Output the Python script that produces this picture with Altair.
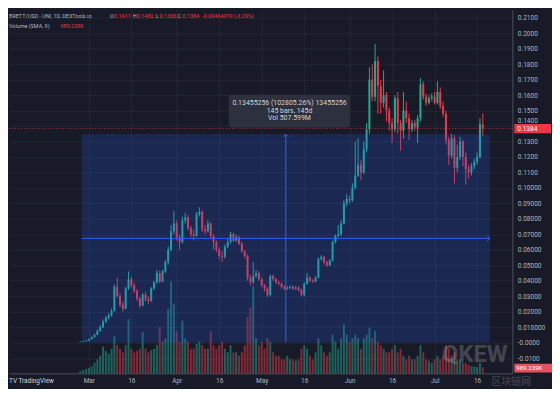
import json
import altair as alt
import pandas as pd

# ---------------- data ----------------
dates = pd.date_range("2024-02-27", periods=143, freq="D").strftime("%Y-%m-%d").tolist()

opens = [
    0.0004, 0.0006, 0.0009, 0.0013, 0.0022, 0.0035, 0.0050, 0.0075, 0.0100, 0.0135,
    0.0160, 0.0175, 0.0205, 0.0360, 0.0300, 0.0245, 0.0220, 0.0350, 0.0410, 0.0370,
    0.0335, 0.0285, 0.0240, 0.0310, 0.0280, 0.0270, 0.0350, 0.0390, 0.0450, 0.0395,
    0.0460, 0.0520, 0.0600, 0.0720, 0.0770, 0.0680, 0.0650, 0.0790, 0.0810, 0.0740,
    0.0700, 0.0690, 0.0830, 0.0845, 0.0730, 0.0720, 0.0770, 0.0690, 0.0650, 0.0600,
    0.0560, 0.0555, 0.0620, 0.0650, 0.0700, 0.0660, 0.0680, 0.0640, 0.0590, 0.0560,
    0.0420, 0.0390, 0.0430, 0.0450, 0.0410, 0.0370, 0.0350, 0.0310, 0.0430, 0.0410,
    0.0390, 0.0380, 0.0360, 0.0350, 0.0355, 0.0360, 0.0350, 0.0355, 0.0340, 0.0310,
    0.0380, 0.0420, 0.0400, 0.0395, 0.0420, 0.0540, 0.0555, 0.0520, 0.0500, 0.0530,
    0.0650, 0.0690, 0.0700, 0.0770, 0.0900, 0.0930, 0.0920, 0.1000, 0.1080, 0.1150,
    0.1100, 0.1250, 0.1380, 0.1700, 0.1590, 0.1820, 0.1660, 0.1550, 0.1600, 0.1500,
    0.1420, 0.1380, 0.1580, 0.1420, 0.1370, 0.1500, 0.1450, 0.1380, 0.1420, 0.1390,
    0.1450, 0.1670, 0.1590, 0.1550, 0.1580, 0.1590, 0.1550, 0.1620, 0.1530, 0.1480,
    0.1310, 0.1210, 0.1320, 0.1130, 0.1200, 0.1300, 0.1200, 0.1120, 0.1100, 0.1140,
    0.1170, 0.1200, 0.1411,
]
highs = [
    0.0008, 0.0011, 0.0016, 0.0026, 0.0040, 0.0058, 0.0085, 0.0112, 0.0150, 0.0172,
    0.0190, 0.0220, 0.0375, 0.0420, 0.0320, 0.0265, 0.0360, 0.0460, 0.0425, 0.0385,
    0.0345, 0.0295, 0.0320, 0.0330, 0.0300, 0.0360, 0.0400, 0.0470, 0.0465, 0.0470,
    0.0535, 0.0620, 0.0760, 0.0850, 0.0790, 0.0700, 0.0815, 0.0840, 0.0825, 0.0755,
    0.0730, 0.0845, 0.0875, 0.0855, 0.0760, 0.0790, 0.0780, 0.0700, 0.0660, 0.0615,
    0.0590, 0.0635, 0.0670, 0.0715, 0.0710, 0.0700, 0.0690, 0.0650, 0.0600, 0.0570,
    0.0440, 0.0520, 0.0470, 0.0460, 0.0420, 0.0380, 0.0360, 0.0440, 0.0440, 0.0420,
    0.0400, 0.0390, 0.0370, 0.0365, 0.0370, 0.0370, 0.0365, 0.0365, 0.0350, 0.0390,
    0.0450, 0.0430, 0.0410, 0.0430, 0.0550, 0.0565, 0.0560, 0.0530, 0.0540, 0.0660,
    0.0700, 0.0760, 0.0790, 0.0920, 0.0960, 0.0950, 0.1030, 0.1300, 0.1320, 0.1180,
    0.1300, 0.1420, 0.1780, 0.1800, 0.1930, 0.1850, 0.1700, 0.1760, 0.1620, 0.1520,
    0.1450, 0.1600, 0.1620, 0.1440, 0.1620, 0.1560, 0.1480, 0.1440, 0.1440, 0.1470,
    0.1710, 0.1690, 0.1610, 0.1600, 0.1610, 0.1620, 0.1690, 0.1650, 0.1560, 0.1500,
    0.1330, 0.1350, 0.1340, 0.1280, 0.1330, 0.1310, 0.1230, 0.1150, 0.1160, 0.1190,
    0.1230, 0.1450, 0.1482,
]
lows = [
    0.0003, 0.0005, 0.0008, 0.0012, 0.0020, 0.0032, 0.0048, 0.0070, 0.0095, 0.0128,
    0.0150, 0.0168, 0.0200, 0.0290, 0.0230, 0.0200, 0.0215, 0.0340, 0.0355, 0.0320,
    0.0270, 0.0225, 0.0235, 0.0265, 0.0250, 0.0262, 0.0340, 0.0380, 0.0385, 0.0390,
    0.0450, 0.0505, 0.0590, 0.0700, 0.0660, 0.0600, 0.0640, 0.0770, 0.0725, 0.0680,
    0.0660, 0.0685, 0.0815, 0.0715, 0.0700, 0.0710, 0.0670, 0.0600, 0.0585, 0.0540,
    0.0520, 0.0545, 0.0610, 0.0640, 0.0650, 0.0650, 0.0630, 0.0580, 0.0545, 0.0400,
    0.0370, 0.0380, 0.0420, 0.0400, 0.0360, 0.0330, 0.0295, 0.0300, 0.0400, 0.0380,
    0.0370, 0.0350, 0.0340, 0.0340, 0.0345, 0.0340, 0.0340, 0.0330, 0.0300, 0.0300,
    0.0375, 0.0390, 0.0385, 0.0390, 0.0415, 0.0530, 0.0505, 0.0490, 0.0495, 0.0525,
    0.0640, 0.0680, 0.0690, 0.0765, 0.0880, 0.0900, 0.0910, 0.0990, 0.1070, 0.1050,
    0.1090, 0.1230, 0.1350, 0.1560, 0.1560, 0.1480, 0.1480, 0.1520, 0.1430, 0.1370,
    0.1290, 0.1360, 0.1350, 0.1240, 0.1320, 0.1420, 0.1310, 0.1360, 0.1370, 0.1290,
    0.1430, 0.1570, 0.1530, 0.1540, 0.1560, 0.1540, 0.1540, 0.1510, 0.1460, 0.1280,
    0.1150, 0.1190, 0.1030, 0.1100, 0.1180, 0.1140, 0.1020, 0.1060, 0.1080, 0.1120,
    0.1150, 0.1190, 0.1336,
]
closes = [
    0.0006, 0.0009, 0.0013, 0.0022, 0.0035, 0.0050, 0.0075, 0.0100, 0.0135, 0.0160,
    0.0175, 0.0205, 0.0360, 0.0300, 0.0245, 0.0220, 0.0350, 0.0410, 0.0370, 0.0335,
    0.0285, 0.0240, 0.0310, 0.0280, 0.0270, 0.0350, 0.0390, 0.0450, 0.0395, 0.0460,
    0.0520, 0.0600, 0.0720, 0.0770, 0.0680, 0.0650, 0.0790, 0.0810, 0.0740, 0.0700,
    0.0690, 0.0830, 0.0845, 0.0730, 0.0720, 0.0770, 0.0690, 0.0650, 0.0600, 0.0560,
    0.0555, 0.0620, 0.0650, 0.0700, 0.0660, 0.0680, 0.0640, 0.0590, 0.0560, 0.0420,
    0.0390, 0.0430, 0.0450, 0.0410, 0.0370, 0.0350, 0.0310, 0.0430, 0.0410, 0.0390,
    0.0380, 0.0360, 0.0350, 0.0355, 0.0360, 0.0350, 0.0355, 0.0340, 0.0310, 0.0380,
    0.0420, 0.0400, 0.0395, 0.0420, 0.0540, 0.0555, 0.0520, 0.0500, 0.0530, 0.0650,
    0.0690, 0.0700, 0.0770, 0.0900, 0.0930, 0.0920, 0.1000, 0.1080, 0.1150, 0.1100,
    0.1250, 0.1380, 0.1700, 0.1590, 0.1820, 0.1660, 0.1550, 0.1600, 0.1500, 0.1420,
    0.1380, 0.1580, 0.1420, 0.1370, 0.1500, 0.1450, 0.1380, 0.1420, 0.1390, 0.1450,
    0.1670, 0.1590, 0.1550, 0.1580, 0.1590, 0.1550, 0.1620, 0.1530, 0.1480, 0.1310,
    0.1210, 0.1320, 0.1130, 0.1200, 0.1300, 0.1200, 0.1120, 0.1100, 0.1140, 0.1170,
    0.1200, 0.1411, 0.1384,
]
volumes_m = [
    0.3, 0.5, 0.6, 0.8, 1.0, 1.5, 2.0, 2.5, 3.8, 3.2,
    2.8, 3.5, 5.3, 4.0, 3.5, 3.0, 4.0, 7.7, 3.5, 3.0,
    3.2, 3.5, 5.9, 3.5, 3.0, 3.3, 3.5, 4.0, 6.6, 4.5,
    5.0, 9.2, 13.1, 9.9, 6.0, 4.5, 7.5, 5.0, 4.5, 3.5,
    3.5, 4.2, 4.5, 4.0, 3.5, 3.5, 6.0, 4.0, 3.5, 4.0,
    4.5, 3.5, 3.0, 4.0, 3.0, 3.0, 2.5, 3.0, 4.0, 8.0,
    9.4, 12.4, 5.0, 4.0, 4.5, 3.5, 5.0, 4.5, 3.0, 2.5,
    2.5, 2.0, 2.0, 2.5, 2.0, 2.0, 1.8, 2.0, 3.5, 4.0,
    3.5, 2.5, 2.0, 3.0, 5.0, 4.0, 3.0, 2.5, 3.0, 5.5,
    4.5, 3.5, 5.0, 7.0, 5.5, 4.5, 5.0, 5.5, 5.0, 3.5,
    5.0, 5.5, 6.5, 5.0, 6.0, 4.5, 4.0, 3.5, 3.0, 3.0,
    3.5, 4.0, 3.0, 3.5, 2.5, 2.0, 2.5, 2.0, 2.0, 2.5,
    4.0, 3.0, 2.0, 1.8, 1.5, 2.0, 2.5, 2.0, 2.5, 4.0,
    3.5, 2.5, 3.0, 2.0, 1.8, 1.5, 1.5, 1.2, 1.0, 1.0,
    0.9, 1.5, 0.9,
]

y_ticks = [-0.01, 0.0, 0.01, 0.02, 0.03, 0.04, 0.05, 0.06, 0.07, 0.08, 0.09, 0.1,
           0.11, 0.12, 0.13, 0.14, 0.15, 0.16, 0.17, 0.18, 0.19, 0.2, 0.21]
y_tick_labels = ["-0.0100", "-0.0000", "0.010000", "0.02000", "0.03000", "0.04000",
                 "0.05000", "0.06000", "0.07000", "0.08000", "0.09000", "0.10000",
                 "0.1100", "0.1200", "0.1300", "0.1400", "0.1500", "0.1600", "0.1700",
                 "0.1800", "0.1900", "0.2000", "0.2100"]
x_tick_dates = ["2024-03-01", "2024-03-16", "2024-04-01", "2024-04-16", "2024-05-01",
                "2024-05-16", "2024-06-01", "2024-06-16", "2024-07-01", "2024-07-16"]
x_tick_labels = ["Mar", "16", "Apr", "16", "May", "16", "Jun", "16", "Jul", "16"]

legend_title = "BRETT/USD - UNI, 1D, DEXTools.io"
ohlc_letters = ["O", "H", "L", "C"]
ohlc_values = ["0.1411", "0.1482", "0.1336", "0.1384"]
change_text = "-0.00464919 (-3.29%)"
volume_title = "Volume (SMA, 9)"
volume_sma_text = "989.239K"
measure_lines = ["0.13455256 (102805.26%) 13455256", "145 bars, 145d", "Vol 507.599M"]
last_price = 0.1384
last_price_text = "0.1384"
measure_low, measure_high = 0.00013, 0.13468
measure_start, measure_end = "2024-02-27", "2024-07-21"

# ---------------- styling ----------------
BG = "#181b27"
GRID = "#232733"
AXIS = "#4a4e5a"
TXT = "#b2b5be"
GREEN = "#22ab94"
RED = "#f23645"
BLUE = "#2962ff"
FONT = "Roboto"
W, H = 508, 367

REF = pd.Timestamp("2024-03-01")


def dnum(s):
    return (pd.Timestamp(s) - REF).days


df = pd.DataFrame({"date": dates, "open": opens, "high": highs, "low": lows,
                   "close": closes, "volume": volumes_m})
df["day"] = [dnum(d) for d in dates]

x_vals = [dnum(d) for d in x_tick_dates]
x_label_expr = f"{json.dumps(x_tick_labels)}[indexof({json.dumps(x_vals)}, datum.value)]"
y_label_expr = f"{json.dumps(y_tick_labels)}[indexof({json.dumps(y_ticks)}, datum.value)]"

XSC = alt.Scale(domain=[-28.18, 149.44], nice=False, zero=False, padding=0)
YSC = alt.Scale(domain=[-0.0199, 0.2152], nice=False, zero=False, padding=0)
VSC = alt.Scale(domain=[0, 51.7], nice=False, zero=True, padding=0)

x_axis = alt.Axis(values=x_vals, labelExpr=x_label_expr, grid=True, gridColor=GRID,
                  domainColor=AXIS, tickSize=0, labelColor=TXT, labelFontSize=6.6,
                  labelFont=FONT, labelPadding=4, title=None, labelFlush=False,
                  labelOverlap=False)
y_axis = alt.Axis(orient="right", values=y_ticks, labelExpr=y_label_expr, grid=True,
                  gridColor=GRID, domainColor=AXIS, tickSize=0, labelColor=TXT,
                  labelFontSize=6.6, labelFont=FONT, labelPadding=5, title=None,
                  labelFlush=False, labelOverlap=False,
                  labelOffset={"condition": {"test": "datum.value == 0.14", "value": -6},
                               "value": 0})

X = alt.X("day:Q", scale=XSC, axis=x_axis)
color_cond = alt.condition("datum.close >= datum.open", alt.value(GREEN), alt.value(RED))

base = alt.Chart(df)

volume = base.mark_bar(width=2, opacity=0.5).encode(
    x=X, y=alt.Y("volume:Q", scale=VSC, axis=None), color=color_cond)

wicks = base.mark_rule(strokeWidth=1).encode(
    x=X, y=alt.Y("low:Q", scale=YSC, axis=y_axis), y2="high:Q", color=color_cond)
bodies = base.mark_bar(width=2).encode(
    x=X, y=alt.Y("open:Q", scale=YSC, axis=y_axis), y2="close:Q", color=color_cond)

# measurement tool
mdf = pd.DataFrame({"x": [dnum(measure_start) + 0.5], "x2": [dnum(measure_end) - 0.5],
                    "y": [measure_low], "y2": [measure_high]})
mdf["xm"] = (mdf["x"] + mdf["x2"]) / 2
mdf["ym"] = (mdf["y"] + mdf["y2"]) / 2
mbase = alt.Chart(mdf)
mbox = mbase.mark_rect(color=BLUE, opacity=0.2).encode(
    x=alt.X("x:Q", scale=XSC, axis=x_axis), x2="x2:Q",
    y=alt.Y("y:Q", scale=YSC, axis=y_axis), y2="y2:Q")
mh = mbase.mark_rule(color=BLUE, strokeWidth=1).encode(
    x=alt.X("x:Q", scale=XSC, axis=x_axis), x2="x2:Q", y=alt.Y("ym:Q", scale=YSC, axis=y_axis))
mv = mbase.mark_rule(color=BLUE, strokeWidth=1).encode(
    x=alt.X("xm:Q", scale=XSC, axis=x_axis), y=alt.Y("y:Q", scale=YSC, axis=y_axis), y2="y2:Q")
arrow_r = mbase.mark_point(shape="M-1,-1L0,0L-1,1", size=28, filled=False, color=BLUE,
                           strokeWidth=1, opacity=1).encode(
    x=alt.X("x2:Q", scale=XSC, axis=x_axis), y=alt.Y("ym:Q", scale=YSC, axis=y_axis))
arrow_u = mbase.mark_point(shape="M-1,1L0,0L1,1", size=28, filled=False, color=BLUE,
                           strokeWidth=1, opacity=1).encode(
    x=alt.X("xm:Q", scale=XSC, axis=x_axis), y=alt.Y("y2:Q", scale=YSC, axis=y_axis))

# measurement label box (position in data coordinates)
lbl_box = pd.DataFrame({"x": [49.4], "x2": [92.1], "y": [0.1390], "y2": [0.1602]})
lbox = alt.Chart(lbl_box).mark_rect(color="#2e323e", opacity=0.95, cornerRadius=3).encode(
    x=alt.X("x:Q", scale=XSC, axis=x_axis), x2="x2:Q",
    y=alt.Y("y:Q", scale=YSC, axis=y_axis), y2="y2:Q")
ltxt_df = pd.DataFrame({"t": measure_lines, "x": [70.8] * 3, "y": [0.1550, 0.1499, 0.1454]})
ltxt = alt.Chart(ltxt_df).mark_text(color="#d1d4dc", fontSize=7, font=FONT,
                                    align="center", baseline="middle").encode(
    x=alt.X("x:Q", scale=XSC, axis=x_axis), y=alt.Y("y:Q", scale=YSC, axis=y_axis), text="t:N")

# last price line + label
pdf = pd.DataFrame({"p": [last_price], "lo": [last_price - 0.003], "hi": [last_price + 0.003],
                    "t": [last_price_text]})
pline = alt.Chart(pdf).mark_rule(color=RED, strokeDash=[1, 2], strokeWidth=1, opacity=0.7).encode(
    y=alt.Y("p:Q", scale=YSC, axis=y_axis))
plabel = alt.Chart(pdf).mark_rect(color=RED).encode(
    x=alt.value(W + 2), x2=alt.value(W + 39),
    y=alt.Y("lo:Q", scale=YSC, axis=y_axis), y2="hi:Q")
ptext = alt.Chart(pdf).mark_text(color="white", fontSize=6.6, font=FONT, align="left",
                                 baseline="middle").encode(
    x=alt.value(W + 5), y=alt.Y("p:Q", scale=YSC, axis=y_axis), text="t:N")

VLBL = -0.0165
vdf = pd.DataFrame({"p": [VLBL], "lo": [VLBL - 0.0028], "hi": [VLBL + 0.0028],
                    "t": [volume_sma_text]})
vlabel = alt.Chart(vdf).mark_rect(color="#e8505f").encode(
    x=alt.value(W + 2), x2=alt.value(W + 40),
    y=alt.Y("lo:Q", scale=YSC, axis=y_axis), y2="hi:Q")
vtext = alt.Chart(vdf).mark_text(color="white", fontSize=6.2, font=FONT, align="left",
                                 baseline="middle").encode(
    x=alt.value(W + 4), y=alt.Y("p:Q", scale=YSC, axis=y_axis), text="t:N")


def txt(s, x, y, color, size=5.5, align="left", weight="normal", font=FONT, opacity=1.0):
    return alt.Chart(pd.DataFrame({"t": [s]})).mark_text(
        align=align, baseline="middle", color=color, fontSize=size, font=font,
        fontWeight=weight, opacity=opacity).encode(
        x=alt.value(x), y=alt.value(y), text="t:N")


legend_layers = [
    txt(legend_title, 0, 6, TXT),
    txt(ohlc_letters[0], 102, 6, TXT), txt(ohlc_values[0], 106, 6, RED),
    txt(ohlc_letters[1], 125, 6, TXT), txt(ohlc_values[1], 129, 6, RED),
    txt(ohlc_letters[2], 148, 6, TXT), txt(ohlc_values[2], 152, 6, RED),
    txt(ohlc_letters[3], 170, 6, TXT), txt(ohlc_values[3], 175, 6, RED),
    txt(change_text, 195, 6, RED),
    txt(volume_title, 0, 16, TXT), txt(volume_sma_text, 52, 16, RED),
    txt("TV TradingView", 0, 375, "#d1d4dc", size=6.5),
    # screenshot watermark, kept clear of the axis labels
    txt("QKEW", 470, 349, "#ffffff", size=24, align="center", weight="bold", opacity=0.18),
    txt("区块链网", 507, 376, "#ffffff", size=10, align="center",
        font="Noto Sans CJK SC", opacity=0.18),
]

price_group = alt.layer(wicks, bodies, mbox, mh, mv, arrow_r, arrow_u, pline, lbox, ltxt,
                        plabel, ptext, vlabel, vtext, *legend_layers)

chart = alt.layer(volume, price_group).resolve_scale(y="independent").properties(
    width=W, height=H, background=BG,
    padding={"left": 0, "top": 0, "right": 0, "bottom": 0},
).configure_view(stroke=None)

chart.save("out.html", embed_options={"renderer": "svg", "actions": False})
